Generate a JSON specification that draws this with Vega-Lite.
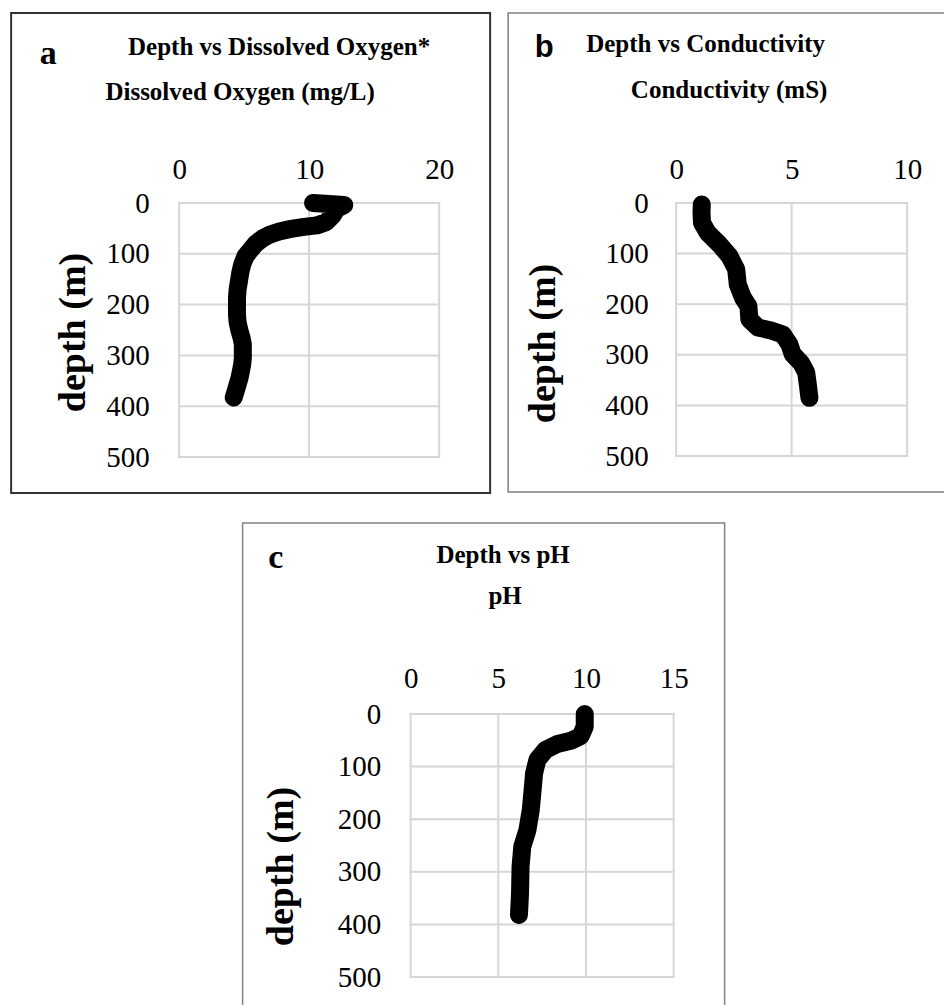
{
  "$schema": "https://vega.github.io/schema/vega-lite/v6.json",
  "padding": {"left": 10, "top": 12, "right": 0, "bottom": 0},
  "background": "white",
  "bounds": "full",
  "spacing": 28,
  "center": true,
  "config": {
    "view": {"fill": "white"},
    "axis": {
      "labelFont": "Liberation Serif",
      "labelFontSize": 29,
      "labelColor": "#000000",
      "labelPadding": 0,
      "labelFlush": false,
      "labelOverlap": false,
      "titleFont": "Liberation Serif",
      "titleFontWeight": "bold",
      "titleColor": "#000000",
      "domain": false,
      "ticks": false,
      "tickSize": 0,
      "grid": false,
      "minExtent": 0
    }
  },
  "vconcat": [
    {
      "bounds": "flush",
      "spacing": 18,
      "hconcat": [
        {
          "width": 479,
          "height": 480,
          "view": {"stroke": "#333333", "strokeWidth": 2, "fill": "white"},
          "resolve": {"axis": {"x": "independent", "y": "independent"}},
          "layer": [
            {
              "data": {"values": [{"v": 0}, {"v": 10}, {"v": 20}]},
              "mark": {"type": "rule", "color": "#d6d6d6", "strokeWidth": 2, "strokeCap": "square"},
              "encoding": {
                "x": {"field": "v", "type": "quantitative",
                  "scale": {"domain": [0, 20], "range": [168, 428], "nice": false, "zero": false},
                  "axis": {"orient": "top", "offset": -165, "values": [0, 10, 20], "labelBaseline": "alphabetic",
                    "title": "Dissolved Oxygen (mg/L)", "titleFontSize": 25, "titleX": 228.5, "titleY": -79,
                    "titleAlign": "center", "titleBaseline": "alphabetic", "titleAngle": 0}},
                "y": {"datum": 0, "axis": null},
                "y2": {"datum": 500}
              }
            },
            {
              "data": {"values": [{"d": 0}, {"d": 100}, {"d": 200}, {"d": 300}, {"d": 400}, {"d": 500}]},
              "mark": {"type": "rule", "color": "#d6d6d6", "strokeWidth": 2, "strokeCap": "square"},
              "encoding": {
                "y": {"field": "d", "type": "quantitative",
                  "scale": {"domain": [0, 500], "range": [190, 444], "nice": false, "zero": false},
                  "axis": {"orient": "left", "offset": -138, "values": [0, 100, 200, 300, 400, 500],
                    "labelAlign": "right", "labelBaseline": "middle",
                    "title": "depth (m)", "titleFontSize": 38, "titleX": -65, "titleY": 319,
                    "titleAngle": 270, "titleAlign": "center", "titleBaseline": "alphabetic"}},
                "x": {"datum": 0, "axis": null},
                "x2": {"datum": 20}
              }
            },
            {
              "data": {"values": [
                {"depth": 0, "oxygen": 10.3}, {"depth": 2, "oxygen": 11.5}, {"depth": 4, "oxygen": 12.7},
                {"depth": 12, "oxygen": 12.1}, {"depth": 25, "oxygen": 11.8}, {"depth": 38, "oxygen": 11.3},
                {"depth": 44, "oxygen": 10.6}, {"depth": 47, "oxygen": 9.6}, {"depth": 51, "oxygen": 8.6},
                {"depth": 56, "oxygen": 7.7}, {"depth": 62, "oxygen": 7.0}, {"depth": 70, "oxygen": 6.4},
                {"depth": 80, "oxygen": 5.9}, {"depth": 92, "oxygen": 5.5}, {"depth": 105, "oxygen": 5.1},
                {"depth": 121, "oxygen": 4.85}, {"depth": 138, "oxygen": 4.7}, {"depth": 154, "oxygen": 4.6},
                {"depth": 170, "oxygen": 4.5}, {"depth": 186, "oxygen": 4.45}, {"depth": 203, "oxygen": 4.45},
                {"depth": 219, "oxygen": 4.45}, {"depth": 235, "oxygen": 4.5}, {"depth": 252, "oxygen": 4.65},
                {"depth": 265, "oxygen": 4.8}, {"depth": 278, "oxygen": 4.9}, {"depth": 292, "oxygen": 4.9},
                {"depth": 305, "oxygen": 4.9}, {"depth": 318, "oxygen": 4.85}, {"depth": 331, "oxygen": 4.75},
                {"depth": 344, "oxygen": 4.65}, {"depth": 357, "oxygen": 4.5}, {"depth": 370, "oxygen": 4.35},
                {"depth": 383, "oxygen": 4.2}
              ]},
              "mark": {"type": "line", "color": "#000000", "strokeWidth": 18, "strokeCap": "round", "strokeJoin": "round"},
              "encoding": {
                "x": {"field": "oxygen", "type": "quantitative",
                  "scale": {"domain": [0, 20], "range": [168, 428], "nice": false, "zero": false},
                  "axis": {"orient": "bottom", "labels": false, "title": "Depth vs Dissolved Oxygen*",
                    "titleFontSize": 25, "titleX": 267.5, "titleY": -439, "titleAlign": "center",
                    "titleBaseline": "alphabetic", "titleAngle": 0}},
                "y": {"field": "depth", "type": "quantitative",
                  "scale": {"domain": [0, 500], "range": [190, 444], "nice": false, "zero": false},
                  "axis": {"orient": "right", "labels": false, "title": "a", "titleFontSize": 34,
                    "titleX": -451, "titleY": 50, "titleAngle": 0, "titleAlign": "left", "titleBaseline": "alphabetic"}},
                "order": {"field": "depth", "type": "quantitative"}
              }
            }
          ]
        },
        {
          "width": 448,
          "height": 479,
          "view": {"stroke": "#808080", "strokeWidth": 1.5, "fill": "white"},
          "resolve": {"axis": {"x": "independent", "y": "independent"}},
          "layer": [
            {
              "data": {"values": [{"v": 0}, {"v": 5}, {"v": 10}]},
              "mark": {"type": "rule", "color": "#d6d6d6", "strokeWidth": 2, "strokeCap": "square"},
              "encoding": {
                "x": {"field": "v", "type": "quantitative",
                  "scale": {"domain": [0, 10], "range": [168, 399], "nice": false, "zero": false},
                  "axis": {"orient": "top", "offset": -165, "values": [0, 5, 10], "labelBaseline": "alphabetic",
                    "title": "Conductivity (mS)", "titleFontSize": 25, "titleX": 220.5, "titleY": -81,
                    "titleAlign": "center", "titleBaseline": "alphabetic", "titleAngle": 0}},
                "y": {"datum": 0, "axis": null},
                "y2": {"datum": 500}
              }
            },
            {
              "data": {"values": [{"d": 0}, {"d": 100}, {"d": 200}, {"d": 300}, {"d": 400}, {"d": 500}]},
              "mark": {"type": "rule", "color": "#d6d6d6", "strokeWidth": 2, "strokeCap": "square"},
              "encoding": {
                "y": {"field": "d", "type": "quantitative",
                  "scale": {"domain": [0, 500], "range": [190, 443], "nice": false, "zero": false},
                  "axis": {"orient": "left", "offset": -140, "values": [0, 100, 200, 300, 400, 500],
                    "labelAlign": "right", "labelBaseline": "middle",
                    "title": "depth (m)", "titleFontSize": 38, "titleX": -94, "titleY": 330,
                    "titleAngle": 270, "titleAlign": "center", "titleBaseline": "alphabetic"}},
                "x": {"datum": 0, "axis": null},
                "x2": {"datum": 10}
              }
            },
            {
              "data": {"values": [
                {"depth": 3, "conductivity": 1.11}, {"depth": 20, "conductivity": 1.1}, {"depth": 39, "conductivity": 1.12},
                {"depth": 59, "conductivity": 1.37}, {"depth": 82, "conductivity": 1.88}, {"depth": 105, "conductivity": 2.31},
                {"depth": 131, "conductivity": 2.6}, {"depth": 161, "conductivity": 2.67}, {"depth": 187, "conductivity": 2.89},
                {"depth": 204, "conductivity": 3.13}, {"depth": 230, "conductivity": 3.17}, {"depth": 246, "conductivity": 3.54},
                {"depth": 252, "conductivity": 4.11}, {"depth": 260, "conductivity": 4.62}, {"depth": 279, "conductivity": 4.9},
                {"depth": 299, "conductivity": 5.05}, {"depth": 316, "conductivity": 5.41}, {"depth": 335, "conductivity": 5.63},
                {"depth": 358, "conductivity": 5.7}, {"depth": 385, "conductivity": 5.77}
              ]},
              "mark": {"type": "line", "color": "#000000", "strokeWidth": 18, "strokeCap": "round", "strokeJoin": "round"},
              "encoding": {
                "x": {"field": "conductivity", "type": "quantitative",
                  "scale": {"domain": [0, 10], "range": [168, 399], "nice": false, "zero": false},
                  "axis": {"orient": "bottom", "labels": false, "title": "Depth vs Conductivity",
                    "titleFontSize": 25, "titleX": 197, "titleY": -441, "titleAlign": "center",
                    "titleBaseline": "alphabetic", "titleAngle": 0}},
                "y": {"field": "depth", "type": "quantitative",
                  "scale": {"domain": [0, 500], "range": [190, 443], "nice": false, "zero": false},
                  "axis": {"orient": "right", "labels": false, "title": "b", "titleFont": "Liberation Sans", "titleFontSize": 31,
                    "titleX": -422, "titleY": 43, "titleAngle": 0, "titleAlign": "left", "titleBaseline": "alphabetic"}},
                "order": {"field": "depth", "type": "quantitative"}
              }
            }
          ]
        }
      ]
    },
    {
      "width": 482,
      "height": 490,
      "view": {"stroke": "#808080", "strokeWidth": 1.5, "fill": "white"},
      "resolve": {"axis": {"x": "independent", "y": "independent"}},
      "layer": [
        {
          "data": {"values": [{"v": 0}, {"v": 5}, {"v": 10}, {"v": 15}]},
          "mark": {"type": "rule", "color": "#d6d6d6", "strokeWidth": 2, "strokeCap": "square"},
          "encoding": {
            "x": {"field": "v", "type": "quantitative",
              "scale": {"domain": [0, 15], "range": [168, 431], "nice": false, "zero": false},
              "axis": {"orient": "top", "offset": -164, "values": [0, 5, 10, 15], "labelBaseline": "alphabetic",
                "title": "pH", "titleFontSize": 25, "titleX": 262, "titleY": -84,
                "titleAlign": "center", "titleBaseline": "alphabetic", "titleAngle": 0}},
            "y": {"datum": 0, "axis": null},
            "y2": {"datum": 500}
          }
        },
        {
          "data": {"values": [{"d": 0}, {"d": 100}, {"d": 200}, {"d": 300}, {"d": 400}, {"d": 500}]},
          "mark": {"type": "rule", "color": "#d6d6d6", "strokeWidth": 2, "strokeCap": "square"},
          "encoding": {
            "y": {"field": "d", "type": "quantitative",
              "scale": {"domain": [0, 500], "range": [191, 454], "nice": false, "zero": false},
              "axis": {"orient": "left", "offset": -138, "values": [0, 100, 200, 300, 400, 500],
                "labelAlign": "right", "labelBaseline": "middle",
                "title": "depth (m)", "titleFontSize": 38, "titleX": -88, "titleY": 343,
                "titleAngle": 270, "titleAlign": "center", "titleBaseline": "alphabetic"}},
            "x": {"datum": 0, "axis": null},
            "x2": {"datum": 15}
          }
        },
        {
          "data": {"values": [
            {"depth": 0, "pH": 9.93}, {"depth": 24, "pH": 9.93}, {"depth": 42, "pH": 9.7},
            {"depth": 51, "pH": 9.13}, {"depth": 57, "pH": 8.37}, {"depth": 68, "pH": 7.7},
            {"depth": 87, "pH": 7.23}, {"depth": 113, "pH": 7.04}, {"depth": 151, "pH": 6.94},
            {"depth": 183, "pH": 6.85}, {"depth": 221, "pH": 6.66}, {"depth": 252, "pH": 6.37},
            {"depth": 290, "pH": 6.27}, {"depth": 341, "pH": 6.24}, {"depth": 382, "pH": 6.18}
          ]},
          "mark": {"type": "line", "color": "#000000", "strokeWidth": 18, "strokeCap": "round", "strokeJoin": "round"},
          "encoding": {
            "x": {"field": "pH", "type": "quantitative",
              "scale": {"domain": [0, 15], "range": [168, 431], "nice": false, "zero": false},
              "axis": {"orient": "bottom", "labels": false, "title": "Depth vs pH",
                "titleFontSize": 25, "titleX": 260, "titleY": -451, "titleAlign": "center",
                "titleBaseline": "alphabetic", "titleAngle": 0}},
            "y": {"field": "depth", "type": "quantitative",
              "scale": {"domain": [0, 500], "range": [191, 454], "nice": false, "zero": false},
              "axis": {"orient": "right", "labels": false, "title": "c", "titleFontSize": 34,
                "titleX": -457, "titleY": 44, "titleAngle": 0, "titleAlign": "left", "titleBaseline": "alphabetic"}},
            "order": {"field": "depth", "type": "quantitative"}
          }
        }
      ]
    }
  ]
}
